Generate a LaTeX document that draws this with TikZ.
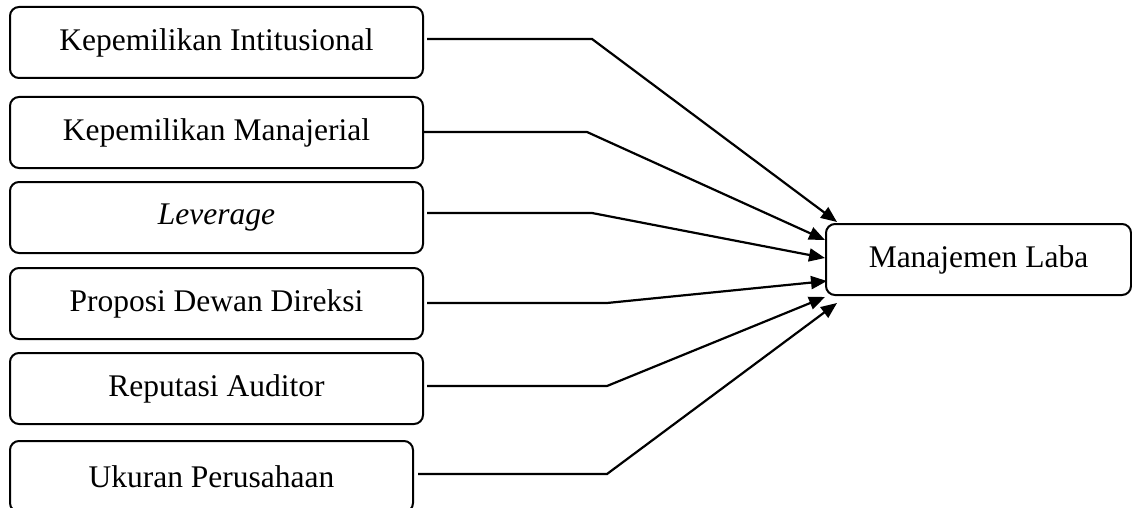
\documentclass[tikz,border=0pt]{standalone}
\usepackage{fontspec}
\setmainfont{Liberation Serif}
\usetikzlibrary{arrows.meta}
\begin{document}
\begin{tikzpicture}[x=1pt,y=-1pt,
  box/.style={draw,line width=2pt,rounded corners=9pt,minimum height=71pt,inner sep=0pt,font=\fontsize{31.5}{36}\selectfont},
  conn/.style={line width=2.2pt,-{Triangle[length=16pt,width=13pt]}}]
\useasboundingbox (0,0) rectangle (1132,508);
\node[box,minimum width=413pt] (b1) at (216.5,42.5) {Kepemilikan Intitusional};
\node[box,minimum width=413pt] (b2) at (216.5,132.5) {Kepemilikan Manajerial};
\node[box,minimum width=413pt] (b3) at (216.5,217.5) {\textit{Leverage}};
\node[box,minimum width=413pt] (b4) at (216.5,303.5) {Proposi Dewan Direksi};
\node[box,minimum width=413pt] (b5) at (216.5,388.5) {Reputasi Auditor};
\node[box,minimum width=403pt,minimum height=71pt] (b6) at (211.5,476.5) {Ukuran Perusahaan};
\node[box,minimum width=305pt] (mb) at (978.5,259.5) {Manajemen Laba};
\coordinate (t1) at (837,222);
\coordinate (t2) at (825,240);
\coordinate (t3) at (825,258);
\coordinate (t4) at (827,281);
\coordinate (t5) at (825,297);
\coordinate (t6) at (837,303);
\draw[conn] ([xshift=3pt,yshift=3.5pt]b1.east) -- (592,39) -- (t1);
\draw[conn] ([yshift=0.5pt]b2.east) -- (587,132) -- (t2);
\draw[conn] ([xshift=3pt,yshift=4.5pt]b3.east) -- (592,213) -- (t3);
\draw[conn] ([xshift=3pt,yshift=0.5pt]b4.east) -- (607,303) -- (t4);
\draw[conn] ([xshift=3pt,yshift=2.5pt]b5.east) -- (607,386) -- (t5);
\draw[conn] ([xshift=4pt,yshift=2.5pt]b6.east) -- (607,474) -- (t6);
\end{tikzpicture}
\end{document}
